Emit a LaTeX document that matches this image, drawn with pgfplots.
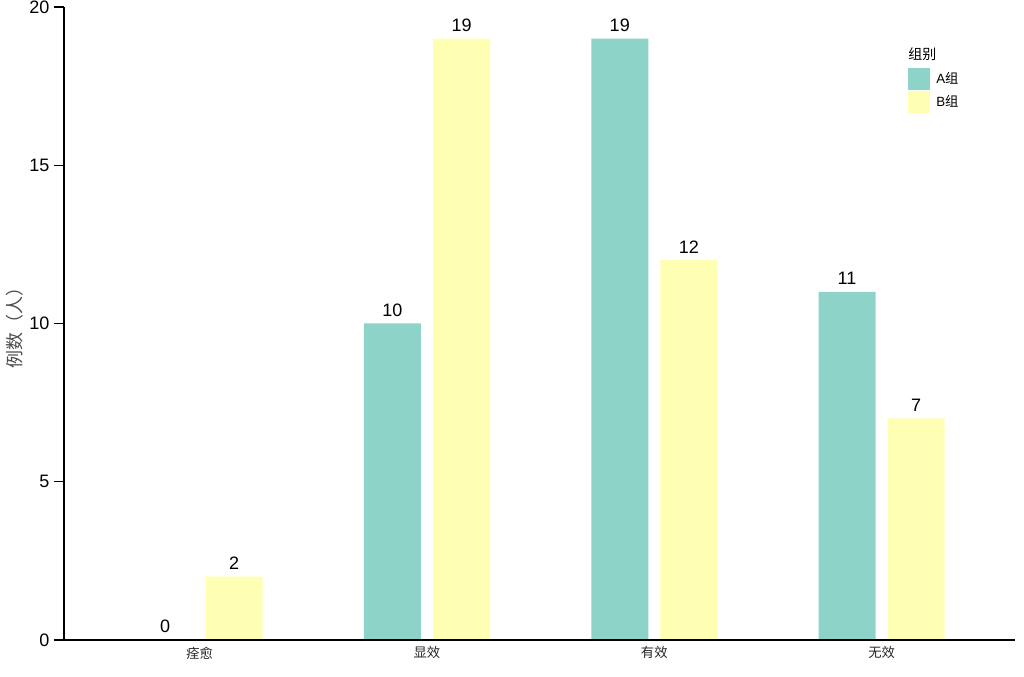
\documentclass[border=0pt]{standalone}
\usepackage{fontspec}
\usepackage{pgfplots}
\pgfplotsset{compat=1.18}
\setmainfont{Liberation Sans}
\newfontfamily\cjk{Noto Sans CJK SC}
\definecolor{cA}{HTML}{8DD3C7}
\definecolor{cB}{HTML}{FFFFB3}
\begin{document}
\begin{tikzpicture}
\useasboundingbox (-48pt,-27.75pt) rectangle (720pt,480pt);
\begin{axis}[
  at={(0pt,0pt)}, anchor=south west,
  scale only axis, width=713.25pt, height=474.75pt,
  xmin=-0.597, xmax=3.587, ymin=0, ymax=20,
  axis x line*=bottom, axis y line*=left,
  axis line style={line width=1.3pt, -},
  axis on top,
  xtick={0,1,2,3}, xticklabels={痊愈,显效,有效,无效},
  xticklabel style={font=\cjk\fontsize{10}{12}\selectfont, color=black!85, yshift=6pt},
  x tick style={draw=none},
  ytick={0,5,10,15,20},
  y tick style={line width=0.9pt, black},
  tick align=outside, major tick length=7.5pt,
  yticklabel style={font=\fontsize{13.5}{15}\selectfont},
  /pgf/number format/assume math mode=true,
  ybar, bar width=42.75pt,
  nodes near coords,
  nodes near coords style={font=\fontsize{13.5}{16}\selectfont, inner sep=0pt, yshift=5pt, /pgf/number format/assume math mode=true},
  ylabel={\cjk 例数（人）},
  ylabel style={at={(axis description cs:-0.0515,0.5)}, anchor=center, font=\fontsize{13.5}{15}\selectfont, color=black!70},
  legend style={at={(axis description cs:0.8875,0.904)}, anchor=north west, draw=none, fill=none, font=\fontsize{10}{12}\selectfont, row sep=1pt, inner sep=0pt, nodes={inner xsep=4.5pt, inner ysep=1pt}},
  legend cell align=left,
]
\addplot[fill=cA, draw=none, bar shift=-25.9pt, legend image code/.code={\fill[cA] (0pt,-8.25pt) rectangle (16.5pt,8.25pt);}] coordinates {(0,0) (1,10) (2,19) (3,11)};
\addplot[fill=cB, draw=none, bar shift=25.9pt, legend image code/.code={\fill[cB] (0pt,-8.25pt) rectangle (16.5pt,8.25pt);}] coordinates {(0,2) (1,19) (2,12) (3,7)};
\legend{A{\cjk 组}, B{\cjk 组}}
\node[anchor=west, inner sep=0pt, font=\cjk\fontsize{10.5}{12}\selectfont] at (axis description cs:0.8875,0.925) {组别};
\end{axis}
\end{tikzpicture}
\end{document}
